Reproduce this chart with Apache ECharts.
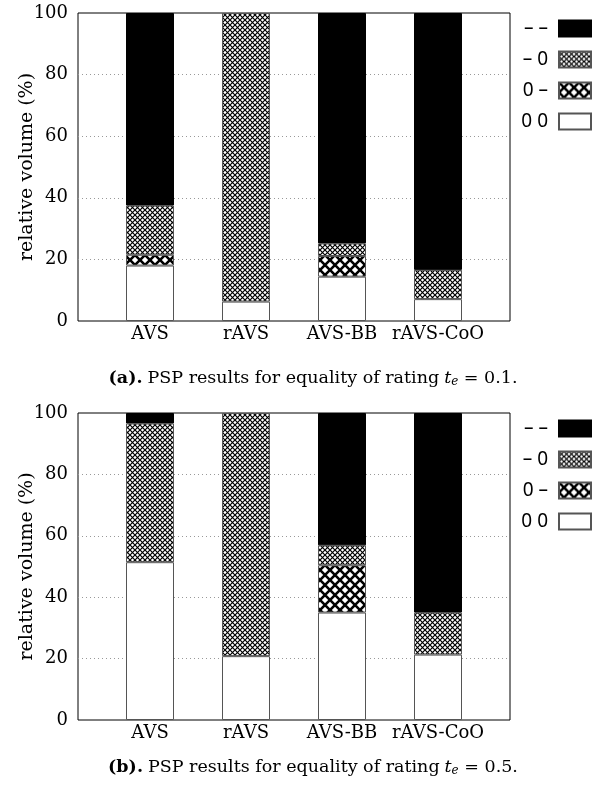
<!DOCTYPE html>
<html>
<head>
<meta charset="utf-8">
<script src="https://cdn.jsdelivr.net/npm/echarts@6/dist/echarts.min.js"></script>
<style>
html,body{margin:0;padding:0;background:#fff;}
#c{width:608px;height:792px;}
</style>
</head>
<body>
<div id="c"></div>
<script>
// ---- data ----
var categories = ['AVS', 'rAVS', 'AVS-BB', 'rAVS-CoO'];
var seriesNames = ['– –', '– 0', '0 –', '0 0'];
var yTicks = [0, 20, 40, 60, 80, 100];

// chart (a): t_e = 0.1
var a_00 = [18.0, 6.3, 14.4, 7.1];
var a_0m = [3.5, 0, 6.7, 0];
var a_m0 = [16.0, 93.7, 4.1, 9.5];
var a_mm = [62.5, 0, 74.8, 83.4];

// chart (b): t_e = 0.5
var b_00 = [51.4, 20.8, 35.0, 21.3];
var b_0m = [0, 0, 15.4, 0];
var b_m0 = [45.2, 79.2, 6.5, 13.7];
var b_mm = [3.4, 0, 43.1, 65.0];

// ---- patterns ----
function hatch(p, lw) {
  var cv = document.createElement('canvas');
  cv.width = p; cv.height = p;
  var ctx = cv.getContext('2d');
  ctx.fillStyle = '#fff';
  ctx.fillRect(0, 0, p, p);
  ctx.strokeStyle = '#000';
  ctx.lineWidth = lw;
  ctx.beginPath();
  ctx.moveTo(-1, -1); ctx.lineTo(p + 1, p + 1);
  ctx.moveTo(p + 1, -1); ctx.lineTo(-1, p + 1);
  ctx.stroke();
  return { image: cv, repeat: 'repeat' };
}
var fineHatch = hatch(5, 1.2);
var bigHatch = hatch(10, 2.6);

var styles = {
  '– –': { color: '#000', borderColor: '#000', borderWidth: 1 },
  '– 0': { color: fineHatch, borderColor: '#555', borderWidth: 1 },
  '0 –': { color: bigHatch, borderColor: '#555', borderWidth: 1 },
  '0 0': { color: '#fff', borderColor: '#555', borderWidth: 1 }
};

var serif = 'DejaVu Serif';
var panels = [
  { top: 13, height: 308, legendTop: 19, capTop: 363, tag: '(a).', val: '0.1.',
    vals: { '0 0': a_00, '0 –': a_0m, '– 0': a_m0, '– –': a_mm } },
  { top: 413, height: 307, legendTop: 419, capTop: 752, tag: '(b).', val: '0.5.',
    vals: { '0 0': b_00, '0 –': b_0m, '– 0': b_m0, '– –': b_mm } }
];

var grid = [], xAxis = [], yAxis = [], series = [], legend = [], title = [];
var stackOrder = ['0 0', '0 –', '– 0', '– –'];

panels.forEach(function (p, k) {
  var gF = grid.length;
  grid.push({ left: 78, width: 432, top: p.top, height: p.height, show: true,
    borderColor: '#000', borderWidth: 1, backgroundColor: 'transparent' });
  grid.push({ left: 102, width: 384, top: p.top, height: p.height });
  xAxis.push({ type: 'value', gridIndex: gF, min: 0, max: 1, show: false });
  yAxis.push({ type: 'value', gridIndex: gF, min: yTicks[0], max: yTicks[yTicks.length - 1], interval: 20,
    name: 'relative volume (%)', nameLocation: 'middle', nameGap: 41, nameRotate: 90,
    nameMoveOverlap: false,
    nameTextStyle: { fontFamily: serif, fontSize: 19, color: '#000' },
    axisLine: { show: false }, axisTick: { show: false },
    axisLabel: { fontFamily: serif, fontSize: 18, color: '#000', margin: 10 },
    splitLine: { show: true, lineStyle: { type: [1, 3], width: 1,
      color: ['rgba(0,0,0,0)', '#999', '#999', '#999', '#999', 'rgba(0,0,0,0)'] } } });
  xAxis.push({ type: 'category', gridIndex: gF + 1, data: categories,
    axisLine: { show: false }, axisTick: { show: false },
    axisLabel: { fontFamily: serif, fontSize: 18, color: '#000', margin: 4, interval: 0 } });
  yAxis.push({ type: 'value', gridIndex: gF + 1, min: 0, max: 100, show: false });

  stackOrder.forEach(function (nm) {
    series.push({
      type: 'bar', name: nm, stack: 'p' + k,
      xAxisIndex: gF + 1, yAxisIndex: gF + 1,
      barWidth: '50%',
      data: p.vals[nm].map(function (v) { return v === 0 ? null : v; }),
      itemStyle: styles[nm],
      emphasis: { disabled: true },
      animation: false
    });
  });

  legend.push({ orient: 'vertical', right: 16, top: p.legendTop, align: 'right', padding: 0,
    itemWidth: 32, itemHeight: 16, itemGap: 12, icon: 'rect',
    data: seriesNames, selectedMode: false,
    textStyle: { fontFamily: 'Noto Sans', fontSize: 19, color: '#000', lineHeight: 16, padding: [0, 6, 0, 0] } });

  title.push({ left: 308, top: p.capTop, textAlign: 'center',
    text: '{b|' + p.tag + '} {n|PSP results for equality of rating} {i|t}{s|e}{n| = ' + p.val + '}',
    textStyle: { fontWeight: 'normal', rich: {
      b: { fontFamily: serif, fontSize: 17.5, fontWeight: 'bold', color: '#000' },
      n: { fontFamily: serif, fontSize: 17.5, fontWeight: 'normal', color: '#000' },
      i: { fontFamily: serif, fontSize: 17.5, fontWeight: 'normal', fontStyle: 'italic', color: '#000' },
      s: { fontFamily: serif, fontSize: 12, fontWeight: 'normal', fontStyle: 'italic', color: '#000', padding: [8, 0, 0, 0] }
    } } });
});

var chart = echarts.init(document.getElementById('c'), null, { renderer: 'canvas' });
chart.setOption({
  animation: false,
  backgroundColor: '#fff',
  title: title, legend: legend, grid: grid, xAxis: xAxis, yAxis: yAxis, series: series
});
</script>
</body>
</html>
